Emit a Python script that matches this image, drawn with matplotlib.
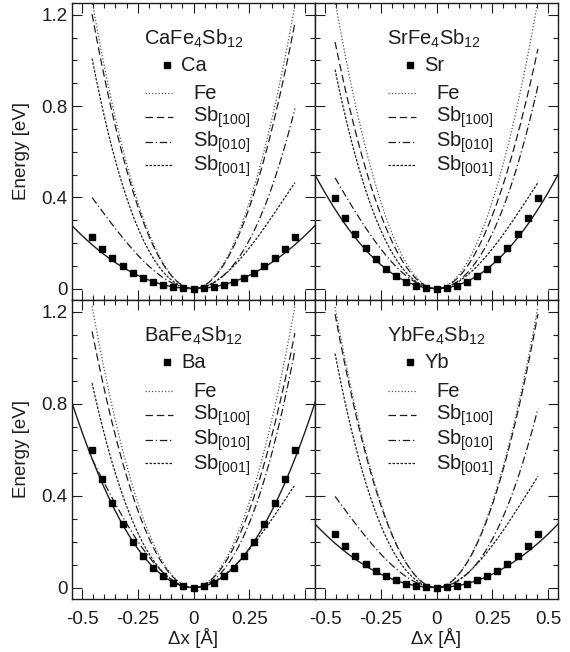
import matplotlib
matplotlib.use("Agg")
import matplotlib.pyplot as plt
from matplotlib.ticker import MultipleLocator, FuncFormatter
import numpy as np

plt.rcParams["font.family"] = ["Liberation Sans", "DejaVu Sans"]
plt.rcParams["mathtext.fontset"] = "custom"
plt.rcParams["mathtext.rm"] = "Liberation Sans"
plt.rcParams["mathtext.it"] = "Liberation Sans:italic"
plt.rcParams["axes.unicode_minus"] = False

INK = "#1e1e1e"
GREY = "#555555"

# displacement grid of the guest-atom calculations (Å)
dx = [-0.455, -0.41, -0.364, -0.318, -0.273, -0.227, -0.182, -0.136, -0.091, -0.045, 0.0,
      0.045, 0.091, 0.136, 0.182, 0.227, 0.273, 0.318, 0.364, 0.41, 0.455]

compounds = ["Ca", "Sr", "Ba", "Yb"]

# guest-atom energies (eV)
e_Ca = [0.226, 0.175, 0.134, 0.098, 0.069, 0.047, 0.028, 0.015, 0.006, 0.002, 0.0,
        0.002, 0.006, 0.015, 0.028, 0.047, 0.069, 0.098, 0.134, 0.175, 0.226]
e_Sr = [0.395, 0.310, 0.238, 0.178, 0.128, 0.088, 0.054, 0.029, 0.013, 0.003, 0.0,
        0.003, 0.013, 0.029, 0.054, 0.088, 0.128, 0.178, 0.238, 0.310, 0.395]
e_Ba = [0.597, 0.474, 0.368, 0.276, 0.199, 0.137, 0.087, 0.048, 0.020, 0.006, 0.0,
        0.006, 0.020, 0.048, 0.087, 0.137, 0.199, 0.276, 0.368, 0.474, 0.597]
e_Yb = [0.233, 0.182, 0.138, 0.102, 0.073, 0.049, 0.031, 0.016, 0.007, 0.002, 0.0,
        0.002, 0.007, 0.016, 0.031, 0.049, 0.073, 0.102, 0.138, 0.182, 0.233]
guest_energy = [e_Ca, e_Sr, e_Ba, e_Yb]

# harmonic fit of the guest energy, E = k dx^2 (eV/Å^2)
k_fit = [0.93, 1.68, 2.71, 0.93]

# framework modes, E = c2 dx^2 + c3 dx^3, one (c2, c3) pair per compound
fe_c = [(6.05, -0.10), (6.10, 0.0), (5.92, 0.0), (5.90, 0.0)]
sb100_c = [(5.72, -0.20), (5.15, -0.16), (5.37, -0.04), (5.75, 0.0)]
sb010_c = [(2.87, 2.07), (3.32, 2.14), (3.85, 2.52), (2.84, 2.03)]
sb001_c = [(3.56, -2.89), (3.44, -2.63), (3.23, -2.35), (3.63, -2.84)]

mode_names = ["Fe", r"Sb$_{[100]}$", r"Sb$_{[010]}$", r"Sb$_{[001]}$"]
mode_coefs = [fe_c, sb100_c, sb010_c, sb001_c]
mode_styles = [
    dict(color=GREY, lw=0.9, ls=(0, (1, 1.6))),
    dict(color=INK, lw=0.9, ls=(0, (6, 3))),
    dict(color=INK, lw=0.9, ls=(0, (6, 2.2, 1, 2.2))),
    dict(color=INK, lw=0.9, ls=(0, (2, 1.2))),
]

fig = plt.figure(figsize=(5.7, 6.52), dpi=100)
L, M, R = 72 / 570, 315 / 570, 558 / 570
T, C, B = 1 - 3 / 652, 1 - 300 / 652, 1 - 599 / 652
boxes = [(L, C, M - L, T - C), (M, C, R - M, T - C),
         (L, B, M - L, C - B), (M, B, R - M, C - B)]

xs = np.linspace(-0.455, 0.455, 300)
xfull = np.linspace(-0.56, 0.56, 300)

def ytick_fmt(v, _):
    return "0" if abs(v) < 1e-9 else f"{v:g}"

for i, name in enumerate(compounds):
    ax = fig.add_axes(boxes[i])
    ax.set_xlim(-0.545, 0.545)
    ax.set_ylim(-0.05, 1.252)

    for coefs, style in zip(mode_coefs, mode_styles):
        c2, c3 = coefs[i]
        ax.plot(xs, c2 * xs**2 + c3 * xs**3, **style)
    ax.plot(xfull, k_fit[i] * xfull**2, color=INK, lw=1.0)
    ax.plot(dx, guest_energy[i], ls="none", marker="s", ms=4.4, color="black")

    # key drawn inside the panel
    ax.text(0.296, 0.859, f"{name}Fe$_4$Sb$_{{12}}$", transform=ax.transAxes,
            fontsize=14.5, color=INK, va="baseline", ha="left")
    ax.plot([0.39], [0.791], marker="s", ms=4.4, color="black",
            transform=ax.transAxes)
    ax.text(0.449, 0.771, name, transform=ax.transAxes,
            fontsize=14.5, color=INK, va="baseline", ha="left")
    line_y = [0.696, 0.617, 0.533, 0.455]
    text_y = [0.676, 0.601, 0.517, 0.434]
    for lab, style, ly, ty in zip(mode_names, mode_styles, line_y, text_y):
        ax.plot([0.300, 0.417], [ly, ly], transform=ax.transAxes, **style)
        ax.text(0.499, ty, lab, transform=ax.transAxes,
                fontsize=14.5, color=INK, va="baseline", ha="left")

    ax.xaxis.set_major_locator(MultipleLocator(0.25))
    ax.xaxis.set_minor_locator(MultipleLocator(0.05))
    ax.yaxis.set_major_locator(MultipleLocator(0.4))
    ax.yaxis.set_minor_locator(MultipleLocator(0.1))
    ax.tick_params(which="both", direction="in", top=True, right=True,
                   colors=INK, labelsize=13.5, width=0.8)
    ax.tick_params(which="major", length=7)
    ax.tick_params(which="minor", length=3.5)
    ax.tick_params(axis="y", pad=3)
    ax.tick_params(axis="x", pad=9)
    for sp in ax.spines.values():
        sp.set_linewidth(1.0)
        sp.set_color(INK)

    ax.yaxis.set_major_formatter(FuncFormatter(ytick_fmt))
    if i in (0, 2):
        ax.set_ylabel("Energy [eV]", fontsize=13.5, color=INK, labelpad=8)
    else:
        ax.tick_params(axis="y", labelleft=False)
    if i in (2, 3):
        ax.set_xlabel("Δx [Å]", fontsize=13.5, color=INK, labelpad=0)
        if i == 2:
            ax.xaxis.set_major_formatter(
                FuncFormatter(lambda v, _: "" if v > 0.4 else ytick_fmt(v, _)))
        else:
            ax.xaxis.set_major_formatter(FuncFormatter(ytick_fmt))
    else:
        ax.tick_params(axis="x", labelbottom=False)

fig.savefig("out.png", dpi=100)
